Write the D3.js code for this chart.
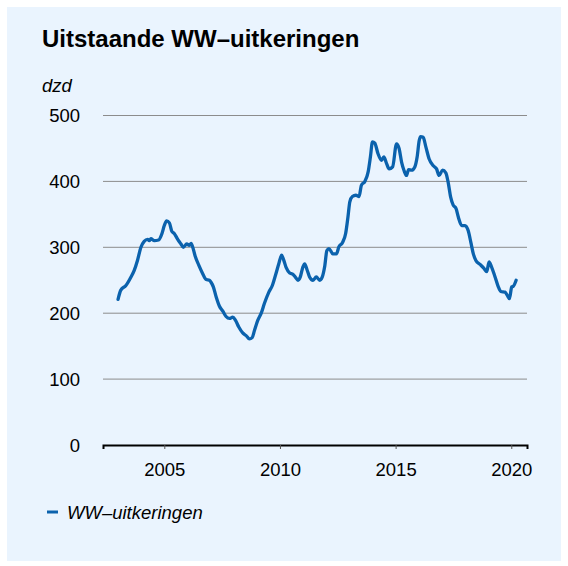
<!DOCTYPE html>
<html>
<head>
<meta charset="utf-8">
<title>Uitstaande WW-uitkeringen</title>
<script src="https://d3js.org/d3.v7.min.js"></script>
<style>
  body { margin: 0; background: #fff; }
  text { font-family: "Liberation Sans", Arial, sans-serif; fill: #000; }
</style>
</head>
<body>
<div id="chart"></div>
<script>
// (decimal years, x 1000)
const dates = [2003.0, 2003.12, 2003.34, 2003.56, 2003.7, 2003.84, 2003.99, 2004.13, 2004.28, 2004.35,
  2004.42, 2004.57, 2004.75, 2004.9, 2005.0, 2005.1, 2005.22, 2005.33, 2005.43, 2005.58,
  2005.72, 2005.82, 2005.97, 2006.08, 2006.16, 2006.23, 2006.34, 2006.49, 2006.66, 2006.81,
  2006.95, 2007.02, 2007.12, 2007.24, 2007.38, 2007.53, 2007.67, 2007.82, 2007.96, 2008.08,
  2008.22, 2008.39, 2008.54, 2008.68, 2008.8, 2008.9, 2009.04, 2009.19, 2009.33, 2009.52,
  2009.67, 2009.81, 2009.95, 2010.07, 2010.16, 2010.27, 2010.42, 2010.56, 2010.68, 2010.78,
  2010.88, 2010.99, 2011.07, 2011.17, 2011.28, 2011.43, 2011.57, 2011.72, 2011.83, 2011.93,
  2012.03, 2012.12, 2012.29, 2012.44, 2012.55, 2012.7, 2012.84, 2012.94, 2013.02, 2013.13,
  2013.28, 2013.42, 2013.52, 2013.67, 2013.81, 2013.91, 2014.0, 2014.1, 2014.24, 2014.39,
  2014.49, 2014.61, 2014.72, 2014.87, 2015.04, 2015.15, 2015.26, 2015.36, 2015.47, 2015.56,
  2015.69, 2015.83, 2015.93, 2016.02, 2016.08, 2016.19, 2016.31, 2016.45, 2016.62, 2016.77,
  2016.88, 2017.03, 2017.17, 2017.27, 2017.38, 2017.49, 2017.61, 2017.71, 2017.86, 2018.0,
  2018.14, 2018.25, 2018.36, 2018.47, 2018.65, 2018.82, 2018.94, 2019.04, 2019.15, 2019.3,
  2019.44, 2019.55, 2019.73, 2019.83, 2019.92, 2020.02, 2020.09, 2020.21];
const wwValues = [221, 235, 242, 255, 265, 280, 300, 309, 312, 310,
  313, 310, 311, 321, 333, 340, 337, 324, 321, 312,
  305, 300, 305, 303, 306, 300, 286, 273, 260, 251,
  250, 247, 240, 225, 211, 203, 195, 192, 194, 189,
  179, 170, 166, 161, 163, 174, 189, 200, 215, 232,
  242, 258, 275, 288, 281, 269, 261, 259, 254, 250,
  255, 270, 275, 266, 255, 250, 255, 250, 255, 270,
  295, 298, 290, 290, 301, 307, 321, 346, 369, 377,
  379, 377, 394, 400, 414, 437, 460, 458, 442, 432,
  437, 427, 419, 422, 457, 450, 429, 417, 409, 418,
  417, 422, 437, 462, 468, 467, 452, 434, 424, 419,
  409, 417, 413, 399, 376, 364, 359, 346, 333, 333,
  325, 308, 290, 280, 274, 268, 263, 278, 270, 255,
  240, 233, 232, 227, 222, 240, 241, 250];
const yTicks = [0, 100, 200, 300, 400, 500];
const xTicks = [2005, 2010, 2015, 2020];

const width = 568, height = 566;
const blue = "#0b62ad";

const svg = d3.select("#chart").append("svg")
  .attr("width", width).attr("height", height);

// panel
svg.append("rect").attr("x", 7).attr("y", 7).attr("width", 554).attr("height", 554)
  .attr("fill", "#eaf4fe");

svg.append("text").attr("x", 42).attr("y", 47)
  .style("font-size", "24px").style("font-weight", "bold")
  .text("Uitstaande WW\u2013uitkeringen");

svg.append("text").attr("x", 42).attr("y", 92)
  .style("font-size", "18.5px").style("font-style", "italic")
  .text("dzd");

var x = d3.scaleLinear().domain([2002.35, 2020.68]).range([103, 527]);
var y = d3.scaleLinear().domain([0, 500]).range([445, 115.5]);

// grid
svg.append("g").selectAll("line")
  .data(yTicks.filter(d => d > 0))
  .enter().append("line")
  .attr("x1", x.range()[0]).attr("x2", x.range()[1])
  .attr("y1", d => y(d)).attr("y2", d => y(d))
  .attr("stroke", "#8c8c8c").attr("stroke-width", 1);

svg.append("g").selectAll("text")
  .data(yTicks)
  .enter().append("text")
  .attr("x", 80).attr("y", d => y(d) + 6.5)
  .attr("text-anchor", "end")
  .style("font-size", "18.5px")
  .text(d => d);

// x axis
var xAxis = d3.axisBottom(x).tickValues(xTicks).tickFormat(d3.format("d"))
  .tickSize(4).tickPadding(14);
var gx = svg.append("g").attr("transform", "translate(0," + y(0) + ")").call(xAxis);
gx.select(".domain").attr("stroke", "#000").attr("stroke-width", 2);
gx.selectAll(".tick line").attr("stroke", "#555");
gx.selectAll(".tick text").style("font-size", "18.5px")
  .style("font-family", "'Liberation Sans', Arial, sans-serif").attr("fill", "#000");

var data = dates.map((d, i) => ({ t: d, v: wwValues[i] }));

var line = d3.line().x(d => x(d.t)).y(d => y(d.v)).curve(d3.curveMonotoneX);

svg.append("path").datum(data)
  .attr("d", line)
  .attr("fill", "none")
  .attr("stroke", blue)
  .attr("stroke-width", 3.3)
  .attr("stroke-linejoin", "round")
  .attr("stroke-linecap", "round");

// legend
svg.append("line").attr("x1", 47).attr("x2", 58).attr("y1", 512).attr("y2", 512)
  .attr("stroke", blue).attr("stroke-width", 3);
svg.append("text").attr("x", 67).attr("y", 518.5)
  .style("font-size", "18.5px").style("font-style", "italic")
  .text("WW\u2013uitkeringen");
</script>
</body>
</html>
